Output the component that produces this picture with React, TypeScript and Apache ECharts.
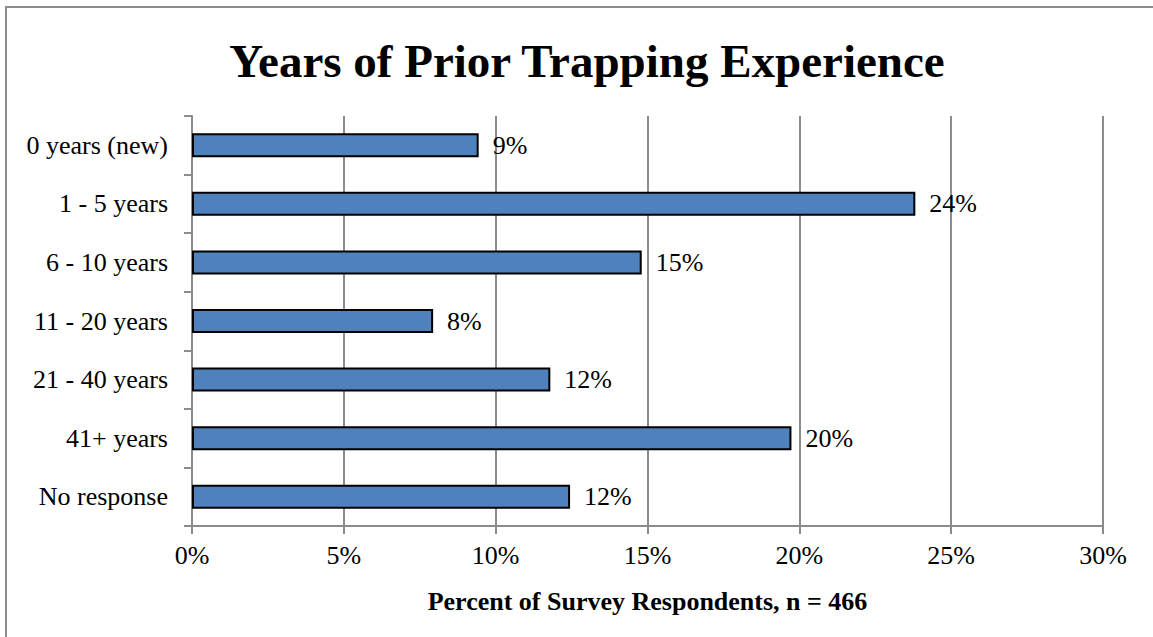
import React, { useEffect, useRef } from "react";
import * as echarts from "echarts";

const categories = [
  "0 years (new)",
  "1 - 5 years",
  "6 - 10 years",
  "11 - 20 years",
  "21 - 40 years",
  "41+ years",
  "No response",
];
const percents = [9.44, 23.82, 14.81, 7.94, 11.8, 19.74, 12.45];
const xTicks = [0, 5, 10, 15, 20, 25, 30];

const SERIF = '"Liberation Serif", "Times New Roman", serif';

export default function App() {
  const ref = useRef<HTMLDivElement>(null);
  useEffect(() => {
    if (!ref.current) return;
    const chart = echarts.init(ref.current, null, { renderer: "svg" });
    chart.setOption({
      animation: false,
      backgroundColor: "#ffffff",
      title: {
        text: "Years of Prior Trapping Experience",
        left: 582,
        textAlign: "center",
        top: 31,
        textStyle: {
          fontFamily: SERIF,
          fontWeight: "bold",
          fontSize: 47,
          lineHeight: 50,
          color: "#000",
        },
      },
      graphic: [
        {
          type: "rect",
          shape: { x: 6, y: 7, width: 1170, height: 700 },
          style: { fill: "none", stroke: "#8c8c8c", lineWidth: 2 },
          silent: true,
        },
      ],
      grid: { left: 192, right: 50, top: 116, bottom: 111, containLabel: false },
      xAxis: {
        type: "value",
        min: xTicks[0],
        max: xTicks[xTicks.length - 1],
        interval: 5,
        name: "Percent of Survey Respondents, n = 466",
        nameLocation: "middle",
        nameGap: 62,
        nameTextStyle: {
          fontFamily: SERIF,
          fontWeight: "bold",
          fontSize: 26,
          color: "#000",
        },
        axisLine: { show: true, lineStyle: { color: "#8c8c8c", width: 2 } },
        axisTick: { show: true, length: 8, lineStyle: { color: "#8c8c8c", width: 2 } },
        axisLabel: {
          formatter: (v: number) => v + "%",
          fontFamily: SERIF,
          fontSize: 26,
          color: "#000",
          margin: 16,
        },
        splitLine: { show: true, lineStyle: { color: "#8c8c8c", width: 2 } },
      },
      yAxis: {
        type: "category",
        data: categories,
        inverse: true,
        axisLine: { show: true, lineStyle: { color: "#8c8c8c", width: 2 } },
        axisTick: { show: true, length: 8, alignWithLabel: false, lineStyle: { color: "#8c8c8c", width: 2 } },
        axisLabel: {
          fontFamily: SERIF,
          fontSize: 26,
          color: "#000",
          margin: 24,
        },
        splitLine: { show: false },
      },
      series: [
        {
          type: "bar",
          data: percents,
          barWidth: "41%",
          itemStyle: { color: "#4f81bd", borderColor: "#000", borderWidth: 2 },
          label: {
            show: true,
            position: "right",
            distance: 14,
            formatter: (p: any) => Math.round(p.value) + "%",
            fontFamily: SERIF,
            fontSize: 26,
            color: "#000",
          },
        },
      ],
    });
    return () => chart.dispose();
  }, []);
  return (
    <div
      ref={ref}
      style={{ position: "absolute", left: 0, top: 0, width: 1153, height: 637 }}
    />
  );
}
